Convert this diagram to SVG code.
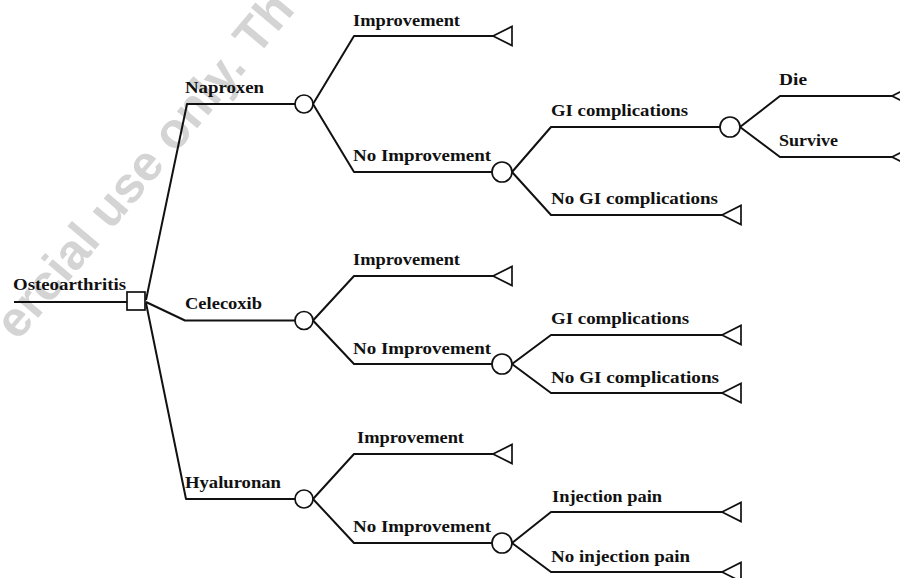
<svg xmlns="http://www.w3.org/2000/svg" width="900" height="578" viewBox="0 0 900 578">
<style>
.wm{font-family:"Liberation Sans",Arial,sans-serif;font-size:50px;font-weight:bold;fill:#d4d4d4}
.ln{fill:none;stroke:#111;stroke-width:2;stroke-linejoin:round}
.nd{fill:#fff;stroke:#111;stroke-width:1.7}
.lb{font-family:"Liberation Serif","Times New Roman",serif;font-size:17px;font-weight:bold;fill:#111}
</style>
<defs>
<polygon id="tri" points="0,0 19,-9.5 19,9.5"/>
</defs>
<rect width="900" height="578" fill="#fff"/>
<g id="watermark" transform="translate(111,231) rotate(-50)">
<text class="wm" x="-14" y="0" text-anchor="end">ercial</text>
<text class="wm" x="0" y="0">use only. Th</text>
</g>
<g id="connectors">
<path class="ln" d="M14,302 H127"/>
<path class="ln" d="M146,300 L187,104 H295"/>
<path class="ln" d="M146,302 L185,320.5 H295"/>
<path class="ln" d="M146,303 L186,499 H295"/>
<path class="ln" d="M313,104 L354,36 H493"/>
<path class="ln" d="M313,104 L354,172 H492"/>
<path class="ln" d="M512,172 L551,127 H720"/>
<path class="ln" d="M512,172 L551,215 H722"/>
<path class="ln" d="M740,127 L780,96 H892"/>
<path class="ln" d="M740,127 L780,157 H892"/>
<path class="ln" d="M313,320.5 L354,276 H493"/>
<path class="ln" d="M313,320.5 L354,364 H492"/>
<path class="ln" d="M512,364 L551,335 H722"/>
<path class="ln" d="M512,364 L551,393 H722"/>
<path class="ln" d="M313,499 L354,454 H493"/>
<path class="ln" d="M313,499 L354,543 H492"/>
<path class="ln" d="M512,543 L551,512 H722"/>
<path class="ln" d="M512,543 L551,572 H722"/>
</g>
<g id="labels">
<text class="lb" x="13" y="290" textLength="113" lengthAdjust="spacingAndGlyphs">Osteoarthritis</text>
<text class="lb" x="185" y="93" textLength="79" lengthAdjust="spacingAndGlyphs">Naproxen</text>
<text class="lb" x="185" y="309" textLength="77" lengthAdjust="spacingAndGlyphs">Celecoxib</text>
<text class="lb" x="185" y="488" textLength="96" lengthAdjust="spacingAndGlyphs">Hyaluronan</text>
<text class="lb" x="353" y="26" textLength="107" lengthAdjust="spacingAndGlyphs">Improvement</text>
<text class="lb" x="353" y="161" textLength="138" lengthAdjust="spacingAndGlyphs">No Improvement</text>
<text class="lb" x="551" y="116" textLength="137" lengthAdjust="spacingAndGlyphs">GI complications</text>
<text class="lb" x="779" y="85" textLength="28" lengthAdjust="spacingAndGlyphs">Die</text>
<text class="lb" x="779" y="146" textLength="59" lengthAdjust="spacingAndGlyphs">Survive</text>
<text class="lb" x="551" y="204" textLength="167" lengthAdjust="spacingAndGlyphs">No GI complications</text>
<text class="lb" x="353" y="265" textLength="107" lengthAdjust="spacingAndGlyphs">Improvement</text>
<text class="lb" x="353" y="354" textLength="138" lengthAdjust="spacingAndGlyphs">No Improvement</text>
<text class="lb" x="551" y="324" textLength="138" lengthAdjust="spacingAndGlyphs">GI complications</text>
<text class="lb" x="551" y="383" textLength="168" lengthAdjust="spacingAndGlyphs">No GI complications</text>
<text class="lb" x="357" y="443" textLength="107" lengthAdjust="spacingAndGlyphs">Improvement</text>
<text class="lb" x="353" y="532" textLength="138" lengthAdjust="spacingAndGlyphs">No Improvement</text>
<text class="lb" x="552" y="502" textLength="110" lengthAdjust="spacingAndGlyphs">Injection pain</text>
<text class="lb" x="551" y="562" textLength="139" lengthAdjust="spacingAndGlyphs">No injection pain</text>
</g>
<g id="decision-osteoarthritis"><rect class="nd" x="127" y="292" width="18" height="18"/></g>
<g id="chance-naproxen"><circle class="nd" cx="304" cy="104" r="9"/></g>
<g id="chance-celecoxib"><circle class="nd" cx="304" cy="320.5" r="9"/></g>
<g id="chance-hyaluronan"><circle class="nd" cx="304" cy="499" r="9"/></g>
<g id="chance-naproxen-noimp"><circle class="nd" cx="502" cy="172" r="10"/></g>
<g id="chance-naproxen-gi"><circle class="nd" cx="730" cy="127" r="10"/></g>
<g id="chance-celecoxib-noimp"><circle class="nd" cx="502" cy="364" r="10"/></g>
<g id="chance-hyaluronan-noimp"><circle class="nd" cx="502" cy="543" r="10"/></g>
<g id="term-naproxen-imp"><use href="#tri" class="nd" x="493" y="36"/></g>
<g id="term-naproxen-die"><use href="#tri" class="nd" x="892" y="96"/></g>
<g id="term-naproxen-survive"><use href="#tri" class="nd" x="892" y="157"/></g>
<g id="term-naproxen-nogi"><use href="#tri" class="nd" x="722" y="215"/></g>
<g id="term-celecoxib-imp"><use href="#tri" class="nd" x="493" y="276"/></g>
<g id="term-celecoxib-gi"><use href="#tri" class="nd" x="722" y="335"/></g>
<g id="term-celecoxib-nogi"><use href="#tri" class="nd" x="722" y="393"/></g>
<g id="term-hyaluronan-imp"><use href="#tri" class="nd" x="493" y="454"/></g>
<g id="term-hyaluronan-pain"><use href="#tri" class="nd" x="722" y="512"/></g>
<g id="term-hyaluronan-nopain"><use href="#tri" class="nd" x="722" y="572"/></g>
</svg>
